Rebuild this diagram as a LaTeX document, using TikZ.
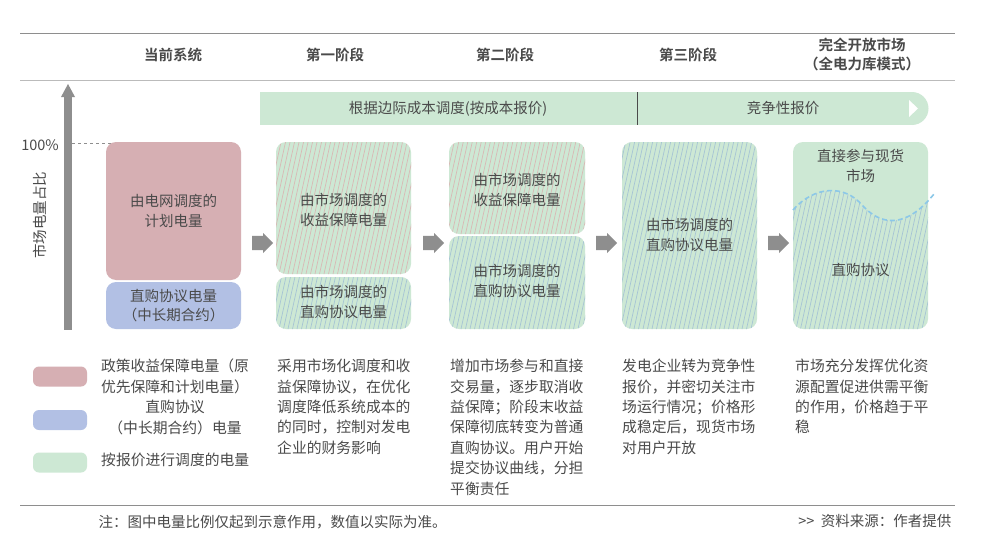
\documentclass[tikz,border=0pt]{standalone}
\usepackage{fontspec}
\setmainfont{Noto Sans CJK SC}[BoldFont={Noto Sans CJK SC Bold}]
\usetikzlibrary{shapes.arrows}
\definecolor{tx}{HTML}{4A4A4A}
\definecolor{gr}{HTML}{CDE8D4}
\definecolor{pk}{HTML}{D6AFB3}
\definecolor{bl}{HTML}{B2C0E4}
\definecolor{spk}{HTML}{D9B8B5}
\definecolor{sbl}{HTML}{A6C4D4}
\definecolor{wv}{HTML}{8CC8E8}
\definecolor{ax}{HTML}{8E8E8E}
\newcommand\stripes[5]{% x1 y1 x2 y2 color
  \pgfmathsetmacro\hh{#4-#2}
  \pgfmathsetmacro\dx{\hh*0.22}
  \foreach \i in {-60,-55.5,...,160}{
    \draw[#5,line width=0.7pt] ({#1+\i},#4) -- ++(\dx,-\hh);}}
\begin{document}
\begin{tikzpicture}[x=1pt,y=-1pt,
  txt/.style={text=tx,font=\fontsize{14.5}{19.5}\selectfont,align=center},
  desc/.style={text=tx,font=\fontsize{14.8}{20.4}\selectfont,align=left,anchor=north west,inner sep=0},
  hd/.style={text=tx,font=\fontsize{14.5}{19}\selectfont\bfseries,align=center},
  garrow/.style={single arrow,fill=ax,draw=none,minimum height=21pt,minimum width=20pt,single arrow head extend=2pt,inner sep=0pt,text height=10pt},
  sw/.style={rounded corners=6pt,minimum width=54pt,minimum height=20pt,inner sep=0}]
\useasboundingbox (0,0) rectangle (988,551);
\fill[white] (0,0) rectangle (988,551);
\draw[ax,line width=0.8pt] (20,33) coordinate (tl) -- (955,33) coordinate (tr);
\draw[ax!60,line width=0.5pt] (20,80) coordinate (ml) -- (955,80) coordinate (mr);
\node[hd] (h1) at (173,55) {当前系统};
\node[hd] (h2) at (335,55) {第一阶段};
\node[hd] (h3) at (505,55) {第二阶段};
\node[hd] (h4) at (688,55) {第三阶段};
\node[hd] (h5) at (862,54) {完全开放市场\\（全电力库模式）};
% banner
\fill[gr] (260,92) rectangle (912,125);
\fill[gr] (912,108.5) circle[radius=16.5];
\draw[tx,line width=0.6pt] (637,92) -- (637,125);
\fill[white] (909,100) -- (918,108.5) -- (909,117) -- cycle;
\node[txt] (b1) at (448,108.5) {根据边际成本调度(按成本报价)};
\node[txt] (b2) at (783,108.5) {竞争性报价};
% axis
\fill[ax] (64,330) rectangle (72,95);
\fill[ax] (61,97) -- (68,84) -- (75,97) -- cycle;
\node[txt,rotate=90] (yl) at (40,215) {市场电量占比};
\node[txt] (p100) at (40,145) {100\%};
\draw[ax,dashed,line width=1pt] (72,143) -- (115,143);
% col1
\node[fill=pk,rounded corners=10pt,minimum width=135pt,minimum height=138pt,txt] (c1a) at (173.5,211) {由电网调度的\\计划电量};
\node[fill=bl,rounded corners=10pt,minimum width=135pt,minimum height=47pt,txt] (c1b) at (173.5,305.5) {直购协议电量\\（中长期合约）};
% col2
\fill[gr,rounded corners=10pt] (276,142) rectangle (411,274);
\begin{scope}\clip[rounded corners=10pt] (276,142) rectangle (411,274);\stripes{276}{142}{411}{274}{spk}\end{scope}
\fill[gr,rounded corners=10pt] (276,277) rectangle (411,329);
\begin{scope}\clip[rounded corners=10pt] (276,277) rectangle (411,329);\stripes{276}{277}{411}{329}{sbl}\end{scope}
\node[txt] (c2a) at (343.5,210) {由市场调度的\\收益保障电量};
\node[txt] (c2b) at (343.5,302) {由市场调度的\\直购协议电量};
% col3
\fill[gr,rounded corners=10pt] (449,142) rectangle (585,234);
\begin{scope}\clip[rounded corners=10pt] (449,142) rectangle (585,234);\stripes{449}{142}{585}{234}{spk}\end{scope}
\fill[gr,rounded corners=10pt] (449,236) rectangle (585,329);
\begin{scope}\clip[rounded corners=10pt] (449,236) rectangle (585,329);\stripes{449}{236}{585}{329}{sbl}\end{scope}
\node[txt] (c3a) at (517,190) {由市场调度的\\收益保障电量};
\node[txt] (c3b) at (517,281) {由市场调度的\\直购协议电量};
% col4
\fill[gr,rounded corners=10pt] (622,142) rectangle (757,329);
\begin{scope}\clip[rounded corners=10pt] (622,142) rectangle (757,329);\stripes{622}{142}{757}{329}{sbl}\end{scope}
\node[txt] (c4) at (689.5,235) {由市场调度的\\直购协议电量};
% col5
\fill[gr,rounded corners=10pt] (793,142) rectangle (928,329);
\begin{scope}\clip[rounded corners=10pt] (793,142) rectangle (928,329);
\clip (793,210) .. controls (815,185) and (845,185) .. (862,205) .. controls (880,225) and (905,230) .. (934,194) -- (934,335) -- (793,335) -- cycle;
\stripes{793}{180}{928}{329}{sbl}\end{scope}
\draw[wv,line width=1.6pt,dash pattern=on 5pt off 3pt] (793,210) .. controls (815,185) and (845,185) .. (862,205) .. controls (880,225) and (905,230) .. (934,194);
\node[txt] (c5a) at (860.5,166) {直接参与现货\\市场};
\node[txt] (c5b) at (860.5,270) {直购协议};
% arrows
\node[garrow] (a1) at (259,243) {};
\node[garrow] (a2) at (430,243) {};
\node[garrow] (a3) at (603,243) {};
\node[garrow] (a4) at (775,243) {};
% legend
\node[sw,fill=pk] (l1) at (60,376.5) {};
\node[sw,fill=bl] (l2) at (60,420) {};
\node[sw,fill=gr] (l3) at (60,462.5) {};
\node[desc,align=center,anchor=north] (lt1) at (175,359) {政策收益保障电量（原\\优先保障和计划电量）\\直购协议\\（中长期合约）电量};
\node[desc] (lt3) at (101,453) {按报价进行调度的电量};
\node[desc] (d1) at (277,359) {采用市场化调度和收\\益保障协议，在优化\\调度降低系统成本的\\的同时，控制对发电\\企业的财务影响};
\node[desc] (d2) at (450,359) {增加市场参与和直接\\交易量，逐步取消收\\益保障；阶段末收益\\保障彻底转变为普通\\直购协议。用户开始\\提交协议曲线，分担\\平衡责任};
\node[desc] (d3) at (622,359) {发电企业转为竞争性\\报价，并密切关注市\\场运行情况；价格形\\成稳定后，现货市场\\对用户开放};
\node[desc] (d4) at (795,359) {市场充分发挥优化资\\源配置促进供需平衡\\的作用，价格趋于平\\稳};
\draw[ax,line width=0.8pt] (20,505) coordinate (bl1) -- (955,505) coordinate (br1);
\node[txt,anchor=west] (note) at (95,522) {注：图中电量比例仅起到示意作用，数值以实际为准。};
\node[txt,anchor=east] (src) at (955,521) {{>}{>}\ \ 资料来源：作者提供};
\end{tikzpicture}
\end{document}
